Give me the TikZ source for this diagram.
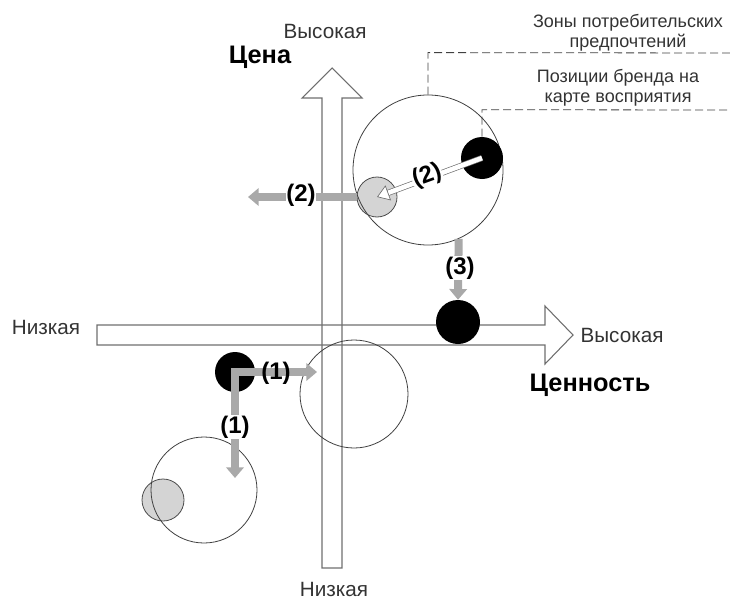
\documentclass[tikz,border=0pt]{standalone}
\usepackage{fontspec}
\setmainfont{Liberation Sans}
\usetikzlibrary{arrows.meta, calc}
\definecolor{axgray}{HTML}{6E6E6E}
\definecolor{mvgray}{HTML}{A9A9A9}
\definecolor{spotgray}{HTML}{D4D4D4}

\begin{document}
\begin{tikzpicture}[x=0.75pt, y=-0.75pt,
  ax/.style={draw=axgray, line width=0.8pt},
  ring/.style={circle, draw=black!75, line width=0.6pt, inner sep=0pt},
  dot/.style={circle, fill=black, inner sep=0pt},
  spot/.style={circle, draw=black!70, fill=spotgray, line width=0.6pt, inner sep=0pt},
  mv/.style={draw=mvgray, line width=6pt, -{Triangle[length=8pt, width=13pt]}},
  num/.style={font=\fontsize{18}{18}\selectfont\bfseries, fill=white, inner sep=0.5pt},
  lab/.style={font=\fontsize{15.5}{18}\selectfont, text=black!80},
  ttl/.style={font=\fontsize{19}{21}\selectfont\bfseries},
  note/.style={font=\fontsize{13.5}{15}\selectfont, align=center, text=black!80},
  lead/.style={black!75, line width=0.6pt, dash pattern=on 6pt off 3pt}]

  \useasboundingbox (0,0) rectangle (730,599);

  % axes
  \draw[ax] (322,568) -- (322,98) -- (302,98) -- (332,68) -- (362,98) -- (342,98) -- (342,568) -- cycle;
  \draw[ax] (97,325) -- (545,325) -- (545,306) -- (573,335) -- (545,364) -- (545,345) -- (97,345) -- cycle;

  \node[lab] (vhi) at (325,31) {Высокая};
  \node[ttl] (price) at (260,57) {Цена};
  \node[lab] (vlo) at (334,589) {Низкая};
  \node[lab] (hlo) at (46,327) {Низкая};
  \node[lab] (hhi) at (622,335) {Высокая};
  \node[ttl] (value) at (590,385) {Ценность};

  % preference zones and brand positions
  \node[spot, minimum size=30pt] (gr2) at (377,197) {};
  \node[spot, minimum size=31.5pt] (gr1) at (163,500) {};
  \node[ring, minimum size=112.5pt] (bigU) at (428,170) {};
  \node[ring, minimum size=81pt] (cR) at (354,394) {};
  \node[ring, minimum size=79.5pt] (cL) at (204,490) {};
  \node[dot, minimum size=31.5pt] (bk2) at (482,158) {};
  \node[dot, minimum size=33pt] (bk3) at (458,322) {};
  \node[dot, minimum size=30pt] (bk1) at (235,372) {};

  \coordinate (t2) at (248,197);
  \coordinate (t1r) at (317,372);
  \coordinate (t1d) at (235,478);

  % moves
  \draw[draw=axgray, line width=0.5pt, double=white, double distance=3.5pt,
        -{Triangle[open, fill=white, length=9pt, width=12pt]}] (bk2.center) -- (gr2.center);
  \draw[mv] (gr2.west) -- (t2);
  \draw[mv] (bigU.-66) -- (bk3.north);
  \draw[mv] ($(bk1.center)+(-4,0)$) -- (t1r);
  \draw[mv] (bk1.center) -- (t1d);

  \node[num, rotate=20] (n2a) at (427,176) {(2)};
  \node[num] (n2b) at (301,195) {(2)};
  \node[num] (n3) at (460,268) {(3)};
  \node[num, fill=none] (n1r) at (276,373) {(1)};
  \node[num] (n1d) at (235,427) {(1)};

  % leader lines
  \coordinate (e1) at (730,53);
  \coordinate (e2) at (730,110);
  \draw[lead] (bigU.north) -- ++(0,-42) -- (e1);
  \draw[lead] (bk2.north) -- ++(0,-27) -- (e2);

  \node[note] (zones) at (628,33) {Зоны потребительских\\предпочтений};
  \node[note] (brand) at (618,88) {Позиции бренда на\\карте восприятия};
\end{tikzpicture}
\end{document}
